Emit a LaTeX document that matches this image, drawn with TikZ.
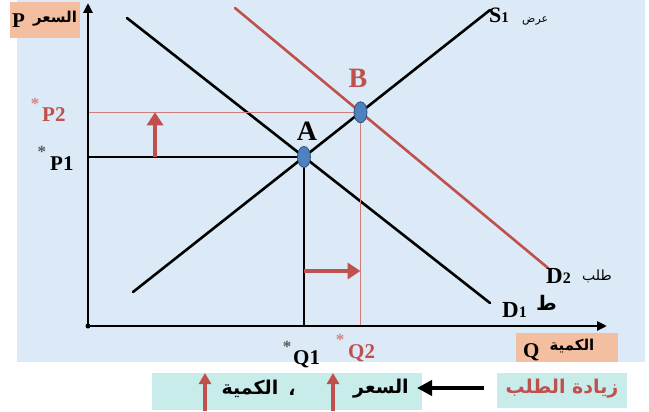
\documentclass[tikz,border=0pt]{standalone}
\usepackage{fontspec}
\setmainfont{Liberation Serif}
\newfontfamily\arabicfont[Script=Arabic]{DejaVu Sans}
\TeXXeTstate=1
\usetikzlibrary{arrows.meta,intersections,calc,shapes.geometric}
\definecolor{bgblue}{HTML}{DCE9F6}
\definecolor{salmon}{HTML}{F4BEA0}
\definecolor{tealbox}{HTML}{C8ECEA}
\definecolor{redc}{HTML}{C0504D}
\definecolor{ptblue}{HTML}{4F81BD}
\definecolor{ptedge}{HTML}{2F4F7F}
\tikzset{
  axisline/.style={line width=2.6pt, -{Triangle[length=10pt,width=9pt]}},
  curve/.style={line width=2.6pt, line cap=round},
  redcurve/.style={line width=2.6pt, redc, line cap=round},
  guide/.style={line width=2.8pt},
  thinred/.style={line width=0.7pt, redc!75},
  shiftarrow/.style={line width=4.5pt, redc, -{Triangle[length=13pt,width=16pt]}},
  smallup/.style={line width=3.2pt, redc, -{Triangle[length=11pt,width=12pt]}},
  bigleft/.style={line width=4pt, black, -{Triangle[length=15pt,width=15pt]}},
  eqpt/.style={ellipse, fill=ptblue, draw=ptedge, line width=0.8pt, minimum width=13pt, minimum height=21pt, inner sep=0pt},
  lbl/.style={font=\bfseries\fontsize{21}{21}\selectfont, inner sep=0pt},
  biglbl/.style={font=\bfseries\fontsize{28}{28}\selectfont, inner sep=0pt},
  star/.style={font=\bfseries\fontsize{17}{17}\selectfont, inner sep=0pt},
  arlbl/.style={font=\arabicfont\bfseries\fontsize{15}{15}\selectfont, inner sep=0pt},
  arbig/.style={font=\arabicfont\bfseries\fontsize{19}{19}\selectfont, inner sep=0pt},
}
\begin{document}
\begin{tikzpicture}[x=1pt,y=-1pt]
\useasboundingbox (0,0) rectangle (649,412);
\fill[bgblue] (17,0) rectangle (645,362);

% coordinates
\coordinate (O) at (88,326);
\coordinate (Ytop) at (88,3);
\coordinate (Xend) at (607,326);
\coordinate (Sa) at (133,292);
\coordinate (Sb) at (490,10);
\coordinate (Da) at (127,18);
\coordinate (Db) at (490,303);
\coordinate (Ea) at (235,8);
\coordinate (Eb) at (548,268);

% curves
\draw[redcurve, name path=D2] (Ea) -- (Eb);
\draw[curve, name path=D1] (Da) -- (Db);
\draw[curve, name path=S] (Sa) -- (Sb);
\path[name intersections={of=S and D1, by=A}];
\path[name intersections={of=S and D2, by=B}];

% guides
\coordinate (Ax) at (A |- O);
\coordinate (Ay) at (A -| O);
\coordinate (Bx) at (B |- O);
\coordinate (By) at (B -| O);
\draw[thinred] (B) -- (Bx);
\draw[thinred] (B) -- (By);
\draw[guide] (A) -- (Ax);
\draw[guide] (A) -- (Ay);

% axes
\draw[axisline] (O) -- (Ytop);
\draw[axisline] (O) -- (Xend);
\fill (O) circle (2.5pt);

% shift arrows
\coordinate (u0) at ($(Ay)+(67,0)$);
\coordinate (u1) at ($(By)+(67,0)$);
\draw[shiftarrow] (u0) -- (u1);
\coordinate (r0) at ($(Ax)+(0,-55)$);
\coordinate (r1) at ($(Bx)+(0,-55)$);
\draw[shiftarrow] (r0) -- (r1);

% equilibrium points
\node[eqpt] (ptA) at (A) {};
\node[eqpt] (ptB) at (B) {};
\node[biglbl] (labA) at (307,131) {A};
\node[biglbl, text=redc] (labB) at (358,78) {B};

% axis boxes
\fill[salmon] (10,2) rectangle (80,38);
\node[lbl, anchor=base west] (labP) at (12,28) {P};
\node[arlbl] (labPa) at (55,19) {\beginR السعر\endR};
\fill[salmon] (516,333) rectangle (618,362);
\node[lbl, anchor=base west] (labQ) at (523,357) {Q};
\node[arlbl] (labQa) at (572,346) {\beginR الكمية\endR};

% price / quantity labels
\node[star, text=redc!70] (stP2) at (35,104) {*};
\node[lbl, text=redc, anchor=base west] (labP2) at (42,122) {P2};
\node[star, text=black!65] (stP1) at (42,152) {*};
\node[lbl, anchor=base west] (labP1) at (50,171) {P1};
\node[star, text=black!65] (stQ1) at (287,347) {*};
\node[lbl, anchor=base west] (labQ1) at (293,364) {Q1};
\node[star, text=redc!70] (stQ2) at (340,340) {*};
\node[lbl, text=redc, anchor=base west] (labQ2) at (348,358) {Q2};

% curve labels
\node[anchor=base west, inner sep=0pt, font=\bfseries] (labS1) at (489,23) {\fontsize{22}{22}\selectfont S\fontsize{15}{15}\selectfont 1};
\node[anchor=base west, inner sep=0pt, font=\arabicfont\fontsize{11}{11}\selectfont] (labSa) at (522,23) {\beginR عرض\endR};
\node[anchor=base west, inner sep=0pt, font=\bfseries] (labD2) at (546,283) {\fontsize{23}{23}\selectfont D\fontsize{16}{16}\selectfont 2};
\node[anchor=base west, inner sep=0pt, font=\arabicfont\fontsize{14}{14}\selectfont] (labD2a) at (582,280) {\beginR طلب\endR};
\node[anchor=base west, inner sep=0pt, font=\bfseries] (labD1) at (502,317) {\fontsize{23}{23}\selectfont D\fontsize{16}{16}\selectfont 1};
\node[anchor=base west, inner sep=0pt, font=\arabicfont\bfseries\fontsize{20}{20}\selectfont] (labD1a) at (536,310) {\beginR ط\endR};

% bottom summary
\fill[tealbox] (152,373) rectangle (422,410);
\fill[tealbox] (497,373) rectangle (627,408);
\coordinate (ua0) at (205,411);
\coordinate (ua1) at (205,373);
\coordinate (ub0) at (333,411);
\coordinate (ub1) at (333,373);
\draw[smallup] (ua0) -- (ua1);
\draw[smallup] (ub0) -- (ub1);
\node[arbig] (labK) at (250,389) {\beginR الكمية\endR};
\node[arbig] (labComma) at (292,392) {\beginR ،\endR};
\node[arbig] (labPr) at (381,389) {\beginR السعر\endR};
\node[arbig, text=redc] (labInc) at (562,389) {\beginR زيادة الطلب\endR};
\coordinate (la0) at (484,388);
\coordinate (la1) at (417,388);
\draw[bigleft] (la0) -- (la1);
\end{tikzpicture}
\end{document}
